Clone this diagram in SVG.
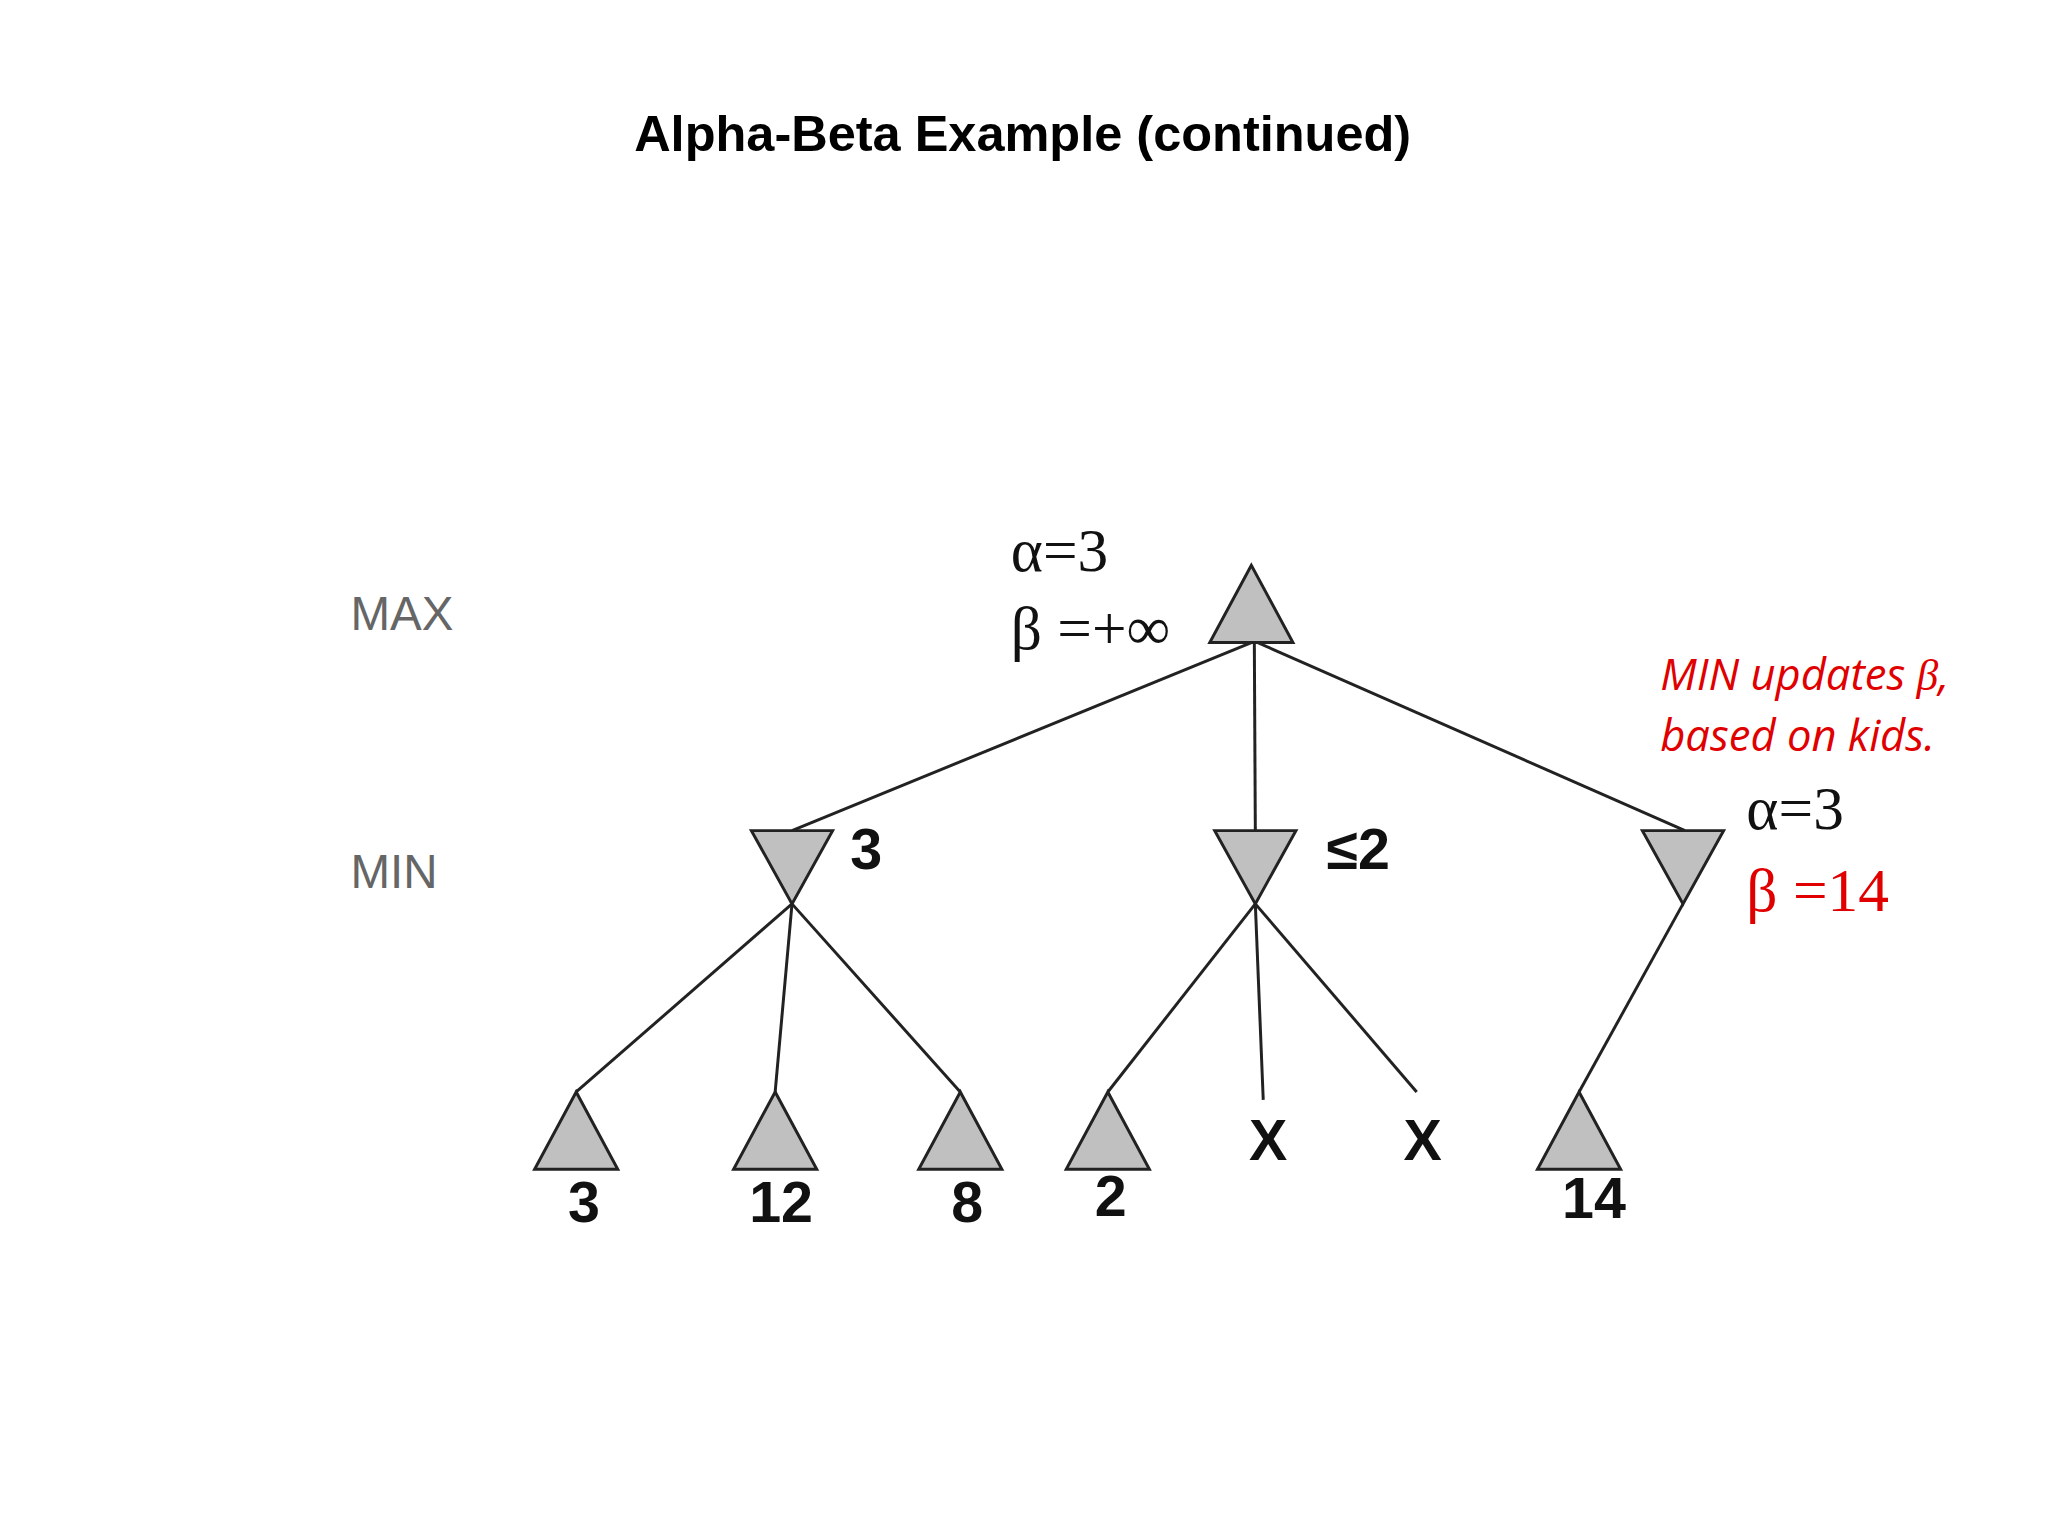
<svg xmlns="http://www.w3.org/2000/svg" width="2048" height="1536" viewBox="0 0 2048 1536">
<style>
.t{fill:#c0c0c0;stroke:#222;stroke-width:3;stroke-linejoin:miter}
.e{stroke:#222;stroke-width:3;fill:none}
.lbl{font-family:"Liberation Sans",Arial,sans-serif;fill:#666;font-size:48px}
.num{font-family:"Liberation Sans",Arial,sans-serif;font-weight:bold;font-size:58px;fill:#111;text-anchor:middle}
.gr{font-family:"Liberation Serif","Times New Roman",serif;font-size:62px;fill:#111}
.red{fill:#e00000}
.note{font-family:"Open Sans","Liberation Sans",sans-serif;font-style:italic;font-size:44px;fill:#e00000}
</style>
<rect width="2048" height="1536" fill="#fff"/>
<g transform="scale(0.99)">
<text x="1033" y="153" text-anchor="middle" font-family="Liberation Sans,Arial,sans-serif" font-weight="bold" font-size="51">Alpha-Beta Example (continued)</text>
<text class="lbl" x="354" y="636">MAX</text>
<text class="lbl" x="354" y="897">MIN</text>
<g id="connectors">
<line class="e" x1="1264" y1="649" x2="800" y2="839"/>
<line class="e" x1="1267" y1="649" x2="1268" y2="839"/>
<line class="e" x1="1270" y1="649" x2="1702" y2="839"/>
<line class="e" x1="800" y1="913" x2="582" y2="1103"/>
<line class="e" x1="800" y1="913" x2="783" y2="1103"/>
<line class="e" x1="800" y1="913" x2="970" y2="1103"/>
<line class="e" x1="1268" y1="913" x2="1119" y2="1103"/>
<line class="e" x1="1268" y1="913" x2="1276" y2="1111"/>
<line class="e" x1="1268" y1="913" x2="1431" y2="1103"/>
<line class="e" x1="1700" y1="913" x2="1595" y2="1103"/>
</g>
<g id="root"><polygon class="t" points="1264,571 1222,649 1306,649"/>
<text class="gr" x="1021" y="577">α=3</text><text class="gr" x="1021" y="656">β =+∞</text></g>
<g id="min1"><polygon class="t" points="759,839 841,839 800,913"/><text class="num" x="875" y="878" font-size="54">3</text></g>
<g id="min2"><polygon class="t" points="1227,839 1309,839 1268,913"/><text class="num" x="1372" y="878" font-size="54">≤2</text></g>
<g id="min3"><polygon class="t" points="1659,839 1741,839 1700,913"/>
<text class="gr" x="1764" y="837">α=3</text><text class="gr red" x="1764" y="920">β =14</text></g>
<g id="note"><text class="note" x="1677" y="697">MIN updates <tspan font-family="Liberation Serif,serif">β</tspan>,</text><text class="note" x="1677" y="759">based on kids.</text></g>
<g id="l1"><polygon class="t" points="582,1103 540,1181 624,1181"/><text class="num" x="590" y="1234">3</text></g>
<g id="l2"><polygon class="t" points="783,1103 741,1181 825,1181"/><text class="num" x="789" y="1234">12</text></g>
<g id="l3"><polygon class="t" points="970,1103 928,1181 1012,1181"/><text class="num" x="977" y="1234">8</text></g>
<g id="l4"><polygon class="t" points="1119,1103 1077,1181 1161,1181"/><text class="num" x="1122" y="1228">2</text></g>
<g id="x1"><text class="num" x="1281" y="1172">X</text></g>
<g id="x2"><text class="num" x="1437" y="1172">X</text></g>
<g id="l7"><polygon class="t" points="1595,1103 1553,1181 1637,1181"/><text class="num" x="1610" y="1230">14</text></g>
</g>
</svg>
